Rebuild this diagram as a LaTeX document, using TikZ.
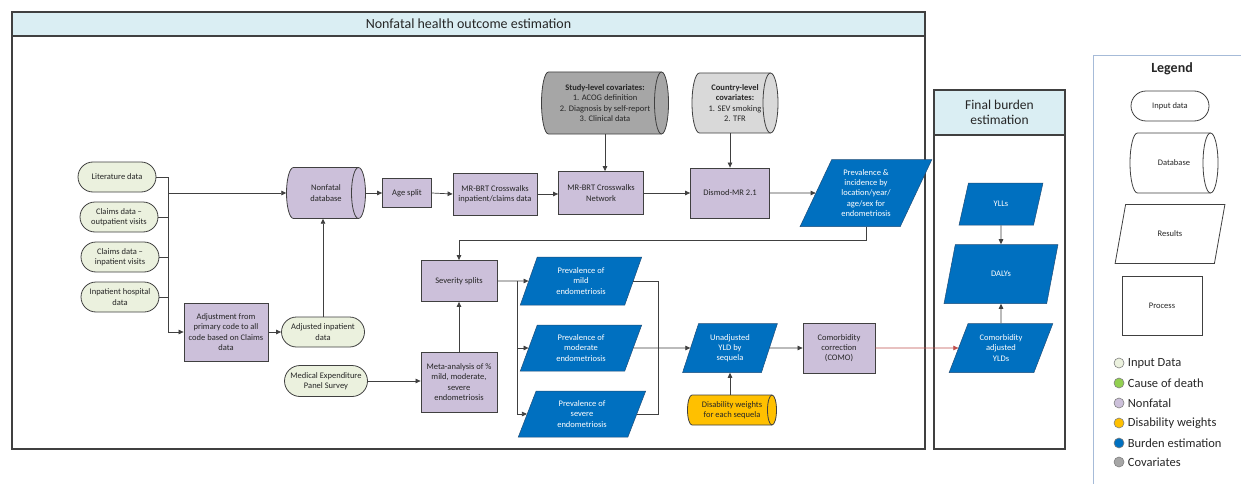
\documentclass[tikz,border=0pt]{standalone}
\usepackage{fontspec}
\setmainfont{Carlito}
\usetikzlibrary{positioning, arrows.meta, shapes.geometric, shapes.misc, calc}
\definecolor{edgecol}{HTML}{404040}
\definecolor{headfill}{HTML}{DAEEF3}
\definecolor{inputfill}{HTML}{EBF1DE}
\definecolor{nffill}{HTML}{CCC0DA}
\definecolor{covdark}{HTML}{A6A6A6}
\definecolor{covlight}{HTML}{D9D9D9}
\definecolor{burdenblue}{HTML}{0070C0}
\definecolor{blueedge}{HTML}{1F4E79}
\definecolor{dwfill}{HTML}{FFC000}
\definecolor{codfill}{HTML}{92D050}
\definecolor{redarr}{HTML}{C0504D}
\definecolor{legline}{HTML}{A6BBD8}
\tikzset{
    every node/.style={font=\fontsize{8.5}{10.2}\selectfont, text=black!85},
    frame/.style={
        rectangle, draw=edgecol, line width=1.3pt, fill=white,
    },
    header/.style={
        rectangle, draw=edgecol, line width=1.3pt, fill=headfill,
        align=center,
    },
    inputdata/.style={
        rounded rectangle, draw=edgecol, line width=0.8pt, fill=inputfill,
        minimum width=80pt, minimum height=30pt, inner sep=1pt, align=center,
    },
    process/.style={
        rectangle, draw=edgecol, line width=0.8pt, fill=nffill,
        inner sep=1pt, align=center,
    },
    dbline/.style={draw=edgecol, line width=0.8pt},
    dbtext/.style={rectangle, inner sep=1pt, align=center},
    result/.style={
        trapezium, trapezium stretches=true,
        trapezium left angle=#1, trapezium right angle=180-#1,
        draw=blueedge, line width=0.5pt, fill=burdenblue, text=white,
        inner sep=0pt, align=center,
    },
    result/.default=66,
    arr/.style={-{Triangle[length=5pt, width=4.5pt]}, edgecol, line width=0.7pt},
    line/.style={edgecol, line width=0.7pt},
    legdot/.style={circle, draw=gray, line width=0.6pt, minimum size=10pt, inner sep=0pt},
    legtext/.style={font=\fontsize{12.5}{15}\selectfont},
}
% database: fill, cap radius, name, x, y, width, height, text
\newcommand{\dbnode}[8]{%
  \draw[dbline, fill=#1]
    (#4-#6/2+#2, #5+#7/2) -- (#4+#6/2-#2, #5+#7/2)
    arc[start angle=90, end angle=-90, x radius=#2, y radius=#7/2]
    -- (#4-#6/2+#2, #5-#7/2)
    arc[start angle=270, end angle=90, x radius=#2, y radius=#7/2] -- cycle;
  \draw[dbline] (#4+#6/2-#2, #5+#7/2)
    arc[start angle=90, end angle=270, x radius=#2, y radius=#7/2];
  \node[dbtext, minimum width=#6pt, minimum height=#7pt] (#3) at (#4,#5) {#8};
}

\begin{document}
\begin{tikzpicture}[x=1pt, y=1pt]
\useasboundingbox (0,0) rectangle (1241,-484);

% ── Frames ─────────────────────────────────────────────────────────
\node[frame, minimum width=913pt, minimum height=437pt] (nfbox) at (468.5,-230.5) {};
\node[header, minimum width=913pt, minimum height=24pt, anchor=north,
      font=\fontsize{14}{16}\selectfont] (nfhead) at (nfbox.north)
    {Nonfatal health outcome estimation};

\node[frame, minimum width=131pt, minimum height=359pt] (fbbox) at (999.5,-269.5) {};
\node[header, minimum width=131pt, minimum height=45pt, anchor=north,
      font=\fontsize{13.5}{15.7}\selectfont] (fbhead) at (fbbox.north)
    {Final burden\\estimation};

% ── Input data ─────────────────────────────────────────────────────
\node[inputdata] (lit) at (117,-177) {Literature data};
\node[inputdata] (cout) at (119,-217) {Claims data --\\outpatient visits};
\node[inputdata] (cin) at (120,-257) {Claims data --\\inpatient visits};
\node[inputdata] (hosp) at (120,-297) {Inpatient hospital\\data};
\node[inputdata, minimum width=85pt] (adjin) at (323,-332) {Adjusted inpatient\\data};
\node[inputdata, minimum width=85pt, minimum height=31pt] (mep) at (326,-381)
    {Medical Expenditure\\Panel Survey};

% ── Nonfatal pipeline ──────────────────────────────────────────────
\node[process, minimum width=84pt, minimum height=58pt] (adjust) at (226,-332)
    {Adjustment from\\primary code to all\\code based on Claims\\data};
\dbnode{nffill}{7}{db}{326}{-193}{79}{51}{Nonfatal\\database}
\node[process, minimum width=49pt, minimum height=29pt] (age) at (407,-193) {Age split};
\node[process, minimum width=84pt, minimum height=42pt] (mrcw) at (495,-194)
    {MR-BRT Crosswalks\\inpatient/claims data};
\node[process, minimum width=85pt, minimum height=43pt] (mrnet) at (601,-193)
    {MR-BRT Crosswalks\\Network};
\dbnode{covdark}{7}{study}{605}{-103}{127}{62}
    {\textbf{Study-level covariates:}\\1. ACOG definition\\2. Diagnosis by self-report\\3. Clinical data}
\dbnode{covlight}{7.5}{country}{735}{-103}{86}{60}
    {\textbf{Country-level}\\\textbf{covariates:}\\1. SEV smoking\\2. TFR}
\node[process, minimum width=79pt, minimum height=50pt] (dismod) at (730,-193) {Dismod-MR 2.1};
\node[result=64, minimum width=132pt, minimum height=67pt] (previnc) at (866,-193)
    {Prevalence \&\\incidence by\\location/year/\\age/sex for\\endometriosis};

% ── Severity and YLDs ──────────────────────────────────────────────
\node[process, minimum width=76pt, minimum height=41pt] (sev) at (459,-281) {Severity splits};
\node[process, minimum width=76pt, minimum height=60pt] (meta) at (459,-382)
    {Meta-analysis of \%\\mild, moderate,\\severe\\endometriosis};
\node[result=70, minimum width=122pt, minimum height=48pt] (mild) at (581,-281)
    {Prevalence of\\mild\\endometriosis};
\node[result=70, minimum width=122pt, minimum height=46pt] (moder) at (581,-348)
    {Prevalence of\\moderate\\endometriosis};
\node[result=70, minimum width=128pt, minimum height=46pt] (severe) at (582,-414)
    {Prevalence of\\severe\\endometriosis};
\node[result=70, minimum width=95pt, minimum height=49pt] (unadj) at (730,-348)
    {Unadjusted\\YLD by\\sequela};
\dbnode{dwfill}{4.5}{dw}{732}{-410}{89}{30}{Disability weights\\for each sequela}
\node[process, minimum width=72pt, minimum height=50pt] (como) at (839,-348)
    {Comorbidity\\correction\\(COMO)};

% ── Final burden ───────────────────────────────────────────────────
\node[result=69, minimum width=84pt, minimum height=42pt] (ylls) at (1001,-204) {YLLs};
\node[result=66, minimum width=114pt, minimum height=59pt] (dalys) at (1001,-274) {DALYs};
\node[result=65, minimum width=104pt, minimum height=49pt] (cay) at (1001,-348)
    {Comorbidity\\adjusted\\YLDs};

% ── Edges ──────────────────────────────────────────────────────────
\coordinate (bus) at (168,0);
\draw[line] (lit.east) -- (lit.east -| bus);
\draw[line] (cout.east) -- (cout.east -| bus);
\draw[line] (cin.east) -- (cin.east -| bus);
\draw[line] (hosp.east) -- (hosp.east -| bus);
\draw[arr] (lit.east -| bus) |- (adjust.west);
\draw[arr] (bus |- db.west) -- (db.west);
\draw[arr] (adjust.east) -- (adjin.west);
\draw[arr] (adjin.north) -- (adjin.north |- db.south);

\draw[arr] (db.east) -- (age.west);
\draw[arr] (age.east) -- (mrcw.west);
\draw[arr] (mrcw.east) -- (mrcw.east -| mrnet.west);
\draw[arr] (mrnet.east) -- (dismod.west);
\draw[arr] (study.south) -- (study.south |- mrnet.north);
\draw[arr] (dismod.north |- country.south) -- (dismod.north);
\draw[arr] (dismod.east) -- (previnc.west);

% prevalence back down to severity splits
\draw[arr] (previnc.south) -- ++(0,-14) -| (sev.north);
\draw[arr] (mep.east) -- (mep.east -| meta.west);
\draw[arr] (meta.north) -- (sev.south);

\coordinate (split) at (517,0);
\draw[arr] (sev.east) -- (mild.west);
\draw[arr] (sev.east -| split) |- (moder.west);
\draw[arr] (sev.east -| split) |- (severe.west);

\coordinate (merge) at (658,0);
\draw[line] (mild.east) -| (merge |- severe.east) -- (severe.east);
\draw[arr] (moder.east) -- (unadj.west);
\draw[arr] (unadj.south |- dw.north) -- (unadj.south);
\draw[arr] (unadj.east) -- (como.west);
\draw[arr, redarr, line width=0.6pt] (como.east) -- (cay.west);

\draw[arr] (ylls.south) -- (dalys.north);
\draw[arr] (cay.north) -- (dalys.south);

% ── Legend ─────────────────────────────────────────────────────────
\draw[legline, line width=1pt] (1241,-56) -- (1093,-56) -- (1093,-484);
\node[font=\fontsize{14}{16}\selectfont\bfseries] (legtitle) at (1172,-69) {Legend};
\node[inputdata, fill=white] (legin) at (1170,-106) {Input data};
\dbnode{white}{7.5}{legdb}{1174}{-163}{88}{60}{Database}
\node[result=64, fill=white, text=black!85, draw=edgecol, line width=0.8pt,
      minimum width=110pt, minimum height=59pt] (legres) at (1170,-234) {Results};
\node[process, fill=white, minimum width=80pt, minimum height=59pt] (legproc) at (1162,-306) {Process};

\node[legdot, fill=inputfill, label={[legtext]right:Input Data}] (k1) at (1119,-363) {};
\node[legdot, fill=codfill, label={[legtext]right:Cause of death}] (k2) at (1119,-383) {};
\node[legdot, fill=nffill, label={[legtext]right:Nonfatal}] (k3) at (1119,-403) {};
\node[legdot, fill=dwfill, label={[legtext]right:Disability weights}] (k4) at (1119,-423) {};
\node[legdot, fill=burdenblue, label={[legtext]right:Burden estimation}] (k5) at (1119,-443) {};
\node[legdot, fill=covdark, label={[legtext]right:Covariates}] (k6) at (1119,-462) {};

\end{tikzpicture}
\end{document}
